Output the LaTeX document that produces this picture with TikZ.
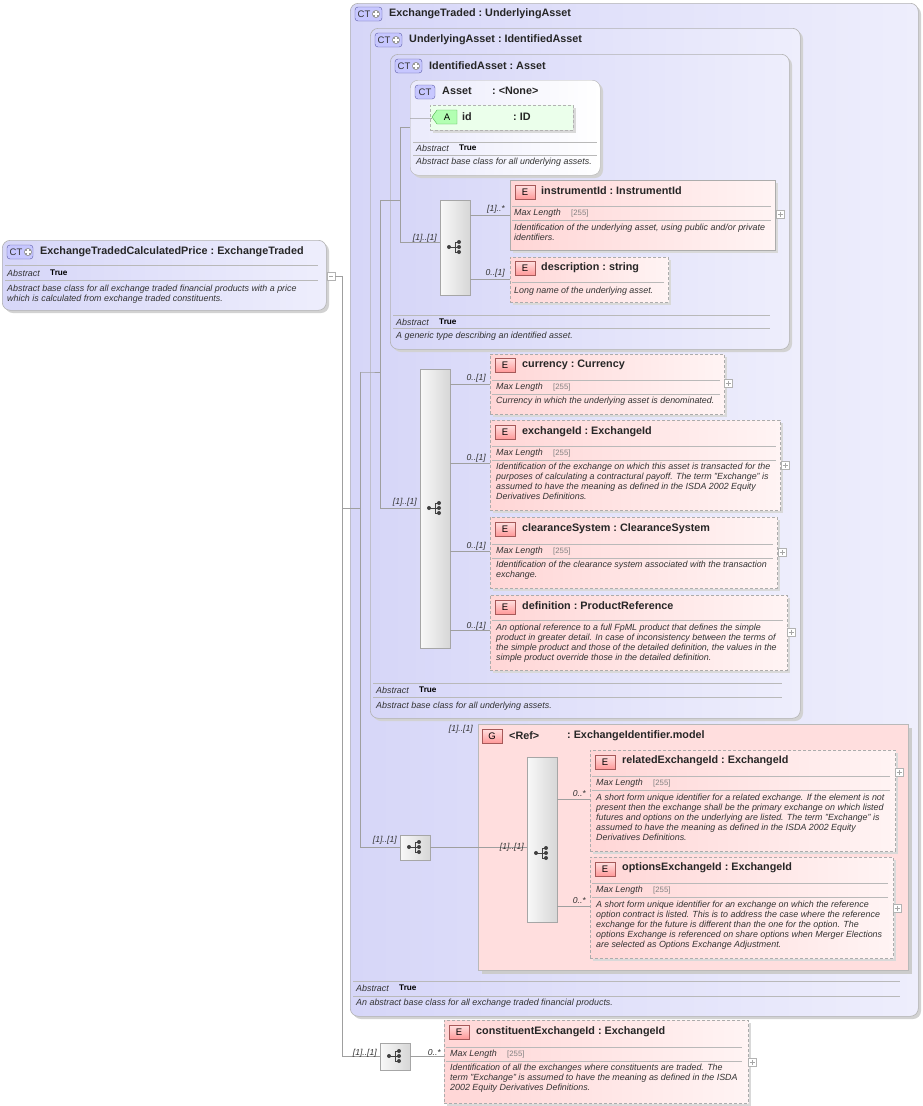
\documentclass[tikz,border=0pt]{standalone}
\usepackage{fontspec}
\setmainfont{Liberation Sans}
\begin{document}
\begin{tikzpicture}[x=1pt,y=-1pt,
  ln/.style={draw=gray!75,line width=0.6pt},
  ct/.style={draw=gray!60,rounded corners=8pt,left color=ctA,right color=ctB,line width=0.6pt},
  el/.style={draw=gray!65,left color=elA,right color=elB,line width=0.6pt,inner sep=0,anchor=north west},
  eld/.style={el,dash pattern=on 3pt off 2pt},
  sq/.style={draw=gray!70,left color=gray!5,right color=gray!32,inner sep=0,anchor=north west},
  tt/.style={font=\fontsize{10.8}{12}\selectfont\bfseries,anchor=west,inner sep=0,text=black!85},
  it/.style={font=\fontsize{8.9}{9.9}\selectfont\itshape,anchor=west,inner sep=0,text=black!80},
  ds/.style={font=\fontsize{8.9}{9.9}\selectfont\itshape,anchor=north west,inner sep=0,align=left,text=black!80},
  bt/.style={font=\fontsize{8.2}{9}\selectfont\bfseries,anchor=west,inner sep=0},
  gy/.style={font=\fontsize{7.8}{9}\selectfont,anchor=west,inner sep=0,text=gray},
  ml/.style={font=\fontsize{8.6}{9}\selectfont\itshape,anchor=east,inner sep=0,text=black!80}]
\definecolor{ctA}{HTML}{D6D6F8}\definecolor{ctB}{HTML}{EEEEFC}
\definecolor{elA}{HTML}{FFD6D6}\definecolor{elB}{HTML}{FFF4F4}
\useasboundingbox (0,0) rectangle (922,1106);
\fill[white] (0,0) rectangle (922,1106);
\newcommand\ctbadge[3]{% x y width
  \draw[draw=gray!70!blue,fill=blue!22,rounded corners=3pt] (#1,#2) rectangle ++(#3,14);
  \node[font=\fontsize{9.5}{10}\selectfont,inner sep=0,text=black!80] at (#1+9,#2+7) {CT};}
\newcommand\ctplus[2]{\fill[gray!80] (#1,#2) circle (4pt);
  \draw[white,line width=1.4pt] (#1-2.6,#2)--(#1+2.6,#2) (#1,#2-2.6)--(#1,#2+2.6);}
\newcommand\ebadge[3]{\draw[draw=gray!70!red,top color=red!12,bottom color=red!40] (#1,#2) rectangle ++(20,14);
  \node[font=\fontsize{9.5}{10}\selectfont,inner sep=0] at (#1+10,#2+7) {#3};}
\newcommand\hl[3]{\draw[gray!55,line width=0.5pt] (#1,#3)--(#2,#3);}
\newcommand\plusat[3]{\node[draw=gray!60,fill=white,minimum size=8pt,inner sep=0] (#1) at (#2,#3) {};
  \draw[gray!70,line width=0.4pt] (#2-2.5,#3)--(#2+2.5,#3) (#2,#3-2.5)--(#2,#3+2.5);}
\newcommand\seqicon[2]{\begin{scope}[shift={(#1,#2)},black!75]
  \draw[line width=0.7pt] (-6,0)--(0,0) (0,-5)--(0,5) (0,-5)--(4,-5) (0,5)--(4,5) (0,0)--(4,0);
  \fill (-6,0) circle (2pt) (4,-5) circle (2pt) (4,0) circle (2pt) (4,5) circle (2pt);\end{scope}}

% ---- left CT
\fill[gray!35] (5,243) [rounded corners=8pt] rectangle (329,313);
\node[ct,minimum width=324pt,minimum height=70pt,anchor=north west,inner sep=0] (etcp) at (2,240) {};
\ctbadge{7}{245}{26}\ctplus{28}{252}
\node[tt] at (40,252) {ExchangeTradedCalculatedPrice\ :\ ExchangeTraded};
\hl{5}{318}{265}\hl{5}{318}{280}
\node[it] at (7,273) {Abstract}; \node[bt] at (50,273) {True};
\node[ds] at (7,285) {Abstract base class for all exchange traded financial products with a price\\which is calculated from exchange traded constituents.};
\node[draw=gray!60,fill=white,minimum size=8pt,inner sep=0] (col) at (331,276) {};
\draw[gray!70] (329,276)--(333,276);

% ---- ExchangeTraded
\fill[gray!35] (353,6) [rounded corners=8pt] rectangle (921,1019);
\node[ct,minimum width=568pt,minimum height=1013pt,anchor=north west,inner sep=0] (et) at (350,3) {};
\ctbadge{355}{7}{27}\ctplus{376}{14}
\node[tt] at (389,14) {ExchangeTraded\ :\ UnderlyingAsset};
\hl{353}{900}{981}\hl{353}{900}{996}
\node[it] at (356,988) {Abstract}; \node[bt] at (399,988) {True};
\node[it] at (356,1003) {An abstract base class for all exchange traded financial products.};

% ---- UnderlyingAsset
\fill[gray!35] (373,31) [rounded corners=8pt] rectangle (803,721);
\node[ct,minimum width=430pt,minimum height=690pt,anchor=north west,inner sep=0] (ua) at (370,28) {};
\ctbadge{375}{33}{27}\ctplus{396}{40}
\node[tt] at (409,40) {UnderlyingAsset\ :\ IdentifiedAsset};
\hl{373}{782}{683}\hl{373}{782}{697}
\node[it] at (376,690) {Abstract}; \node[bt] at (419,690) {True};
\node[it] at (376,706) {Abstract base class for all underlying assets.};

% ---- IdentifiedAsset
\fill[gray!35] (393,57) [rounded corners=8pt] rectangle (792,352);
\node[ct,minimum width=399pt,minimum height=295pt,anchor=north west,inner sep=0] (ia) at (390,54) {};
\ctbadge{395}{59}{27}\ctplus{416}{66}
\node[tt] at (429,66) {IdentifiedAsset\ :\ Asset};
\hl{393}{770}{315}\hl{393}{770}{328}
\node[it] at (396,322) {Abstract}; \node[bt] at (439,322) {True};
\node[it] at (396,336) {A generic type describing an identified asset.};

% ---- Asset
\fill[gray!35] (413,83) [rounded corners=8pt] rectangle (603,178);
\node[draw=gray!60,rounded corners=8pt,left color=ctA!50,right color=white,minimum width=190pt,minimum height=95pt,anchor=north west,inner sep=0] (asset) at (410,80) {};
\draw[draw=gray!70!blue,fill=blue!22,rounded corners=3pt] (415,85) rectangle ++(20,14);
\node[font=\fontsize{9.5}{10}\selectfont,inner sep=0,text=black!80] at (425,92) {CT};
\node[tt] at (442,91) {Asset}; \node[tt] at (492,91) {:\ <None>};
\hl{413}{597}{142}\hl{413}{597}{155}
\node[it] at (416,148) {Abstract}; \node[bt] at (459,148) {True};
\node[it] at (416,162) {Abstract base class for all underlying assets.};
% id attribute
\fill[gray!30] (433,108) rectangle (576,133);
\node[draw=gray!60,dash pattern=on 3pt off 2pt,fill=green!8,minimum width=143pt,minimum height=25pt,anchor=north west,inner sep=0] (id) at (430,105) {};
\draw[draw=gray!60!green,fill=green!30] (437,110)--(457,110)--(457,124)--(437,124)--(432,117)--cycle;
\node[font=\fontsize{9.5}{10}\selectfont,inner sep=0] at (447,117) {A};
\node[tt] at (462,117) {id}; \node[tt] at (513,117) {:\ ID};

% ---- seq1 and IA content
\node[sq,minimum width=30pt,minimum height=95pt] (s1) at (440,200) {}; \seqicon{455}{247}
\fill[gray!30] (513,183) rectangle (778,253);
\node[el,minimum width=265pt,minimum height=70pt] (instr) at (510,180) {};
\ebadge{515}{185}{E}\node[tt] at (541,191) {instrumentId\ :\ InstrumentId};
\hl{512}{771}{206}\hl{512}{771}{220}
\node[it] at (514,213) {Max Length}; \node[gy] at (571,213) {[255]};
\node[ds] at (514,224) {Identification of the underlying asset, using public and/or private\\identifiers.};
\plusat{p1}{780}{214}
\fill[gray!30] (513,260) rectangle (671,305);
\node[eld,minimum width=158pt,minimum height=45pt] (descr) at (510,257) {};
\ebadge{515}{261}{E}\node[tt] at (541,268) {description\ :\ string};
\hl{512}{664}{282}
\node[it] at (514,291) {Long name of the underlying asset.};

% ---- seq2 and UA content
\node[sq,minimum width=30pt,minimum height=279pt] (s2) at (420,369) {}; \seqicon{435}{508}
\fill[gray!30] (493,357) rectangle (727,417);
\node[eld,minimum width=234pt,minimum height=60pt] (cur) at (490,354) {};
\ebadge{495}{358}{E}\node[tt] at (522,365) {currency\ :\ Currency};
\hl{492}{720}{380}\hl{492}{720}{394}
\node[it] at (496,387) {Max Length}; \node[gy] at (553,387) {[255]};
\node[it] at (496,401) {Currency in which the underlying asset is denominated.};
\plusat{p2}{728}{383}
\fill[gray!30] (493,423) rectangle (783,513);
\node[eld,minimum width=290pt,minimum height=90pt] (exid) at (490,420) {};
\ebadge{495}{425}{E}\node[tt] at (522,432) {exchangeId\ :\ ExchangeId};
\hl{492}{776}{446}\hl{492}{776}{460}
\node[it] at (496,453) {Max Length}; \node[gy] at (553,453) {[255]};
\node[ds] at (496,463) {Identification of the exchange on which this asset is transacted for the\\purposes of calculating a contractural payoff. The term "Exchange" is\\assumed to have the meaning as defined in the ISDA 2002 Equity\\Derivatives Definitions.};
\plusat{p3}{785}{465}
\fill[gray!30] (493,520) rectangle (780,591);
\node[eld,minimum width=287pt,minimum height=71pt] (clr) at (490,517) {};
\ebadge{495}{522}{E}\node[tt] at (522,529) {clearanceSystem\ :\ ClearanceSystem};
\hl{492}{773}{544}\hl{492}{773}{558}
\node[it] at (496,551) {Max Length}; \node[gy] at (553,551) {[255]};
\node[ds] at (496,561) {Identification of the clearance system associated with the transaction\\exchange.};
\plusat{p4}{782}{552}
\fill[gray!30] (493,598) rectangle (790,673);
\node[eld,minimum width=297pt,minimum height=75pt] (def) at (490,595) {};
\ebadge{495}{600}{E}\node[tt] at (522,606) {definition\ :\ ProductReference};
\hl{492}{783}{620}
\node[ds] at (496,624) {An optional reference to a full FpML product that defines the simple\\product in greater detail. In case of inconsistency between the terms of\\the simple product and those of the detailed definition, the values in the\\simple product override those in the detailed definition.};
\plusat{p5}{791}{632}

% ---- seq3 and G group
\node[sq,minimum width=30pt,minimum height=25pt] (s3) at (400,835) {}; \seqicon{415}{847}
\fill[gray!40] (482,728) rectangle (912,974);
\node[draw=gray!55,fill=red!13,minimum width=430pt,minimum height=246pt,anchor=north west,inner sep=0] (grp) at (478,724) {};
\ebadge{482}{729}{G}\node[tt] at (509,736) {<Ref>}; \node[tt] at (567,736) {:\ ExchangeIdentifier.model};
\node[sq,minimum width=30pt,minimum height=165pt] (s4) at (527,757) {}; \seqicon{542}{853}
\fill[gray!30] (593,753) rectangle (898,854);
\node[eld,minimum width=305pt,minimum height=101pt] (rel) at (590,750) {};
\ebadge{595}{755}{E}\node[tt] at (622,761) {relatedExchangeId\ :\ ExchangeId};
\hl{592}{890}{776}\hl{592}{890}{790}
\node[it] at (596,783) {Max Length}; \node[gy] at (653,783) {[255]};
\node[ds] at (596,794) {A short form unique identifier for a related exchange. If the element is not\\present then the exchange shall be the primary exchange on which listed\\futures and options on the underlying are listed. The term "Exchange" is\\assumed to have the meaning as defined in the ISDA 2002 Equity\\Derivatives Definitions.};
\plusat{p6}{899}{772}
\fill[gray!30] (593,860) rectangle (896,961);
\node[eld,minimum width=303pt,minimum height=101pt] (opt) at (590,857) {};
\ebadge{595}{862}{E}\node[tt] at (622,868) {optionsExchangeId\ :\ ExchangeId};
\hl{592}{888}{883}\hl{592}{888}{897}
\node[it] at (596,890) {Max Length}; \node[gy] at (653,890) {[255]};
\node[ds] at (596,901) {A short form unique identifier for an exchange on which the reference\\option contract is listed. This is to address the case where the reference\\exchange for the future is different than the one for the option. The\\options Exchange is referenced on share options when Merger Elections\\are selected as Options Exchange Adjustment.};
\plusat{p7}{897}{908}

% ---- seq5 and constituent
\node[sq,minimum width=30pt,minimum height=27pt] (s5) at (380,1043) {}; \seqicon{395}{1056}
\fill[gray!30] (447,1023) rectangle (751,1106);
\node[eld,minimum width=304pt,minimum height=83pt] (cons) at (444,1020) {};
\ebadge{449}{1025}{E}\node[tt] at (476,1032) {constituentExchangeId\ :\ ExchangeId};
\hl{446}{742}{1047}\hl{446}{742}{1061}
\node[it] at (450,1054) {Max Length}; \node[gy] at (507,1054) {[255]};
\node[ds] at (450,1064) {Identification of all the exchanges where constituents are traded. The\\term "Exchange" is assumed to have the meaning as defined in the ISDA\\2002 Equity Derivatives Definitions.};
\plusat{p8}{752}{1062}

% ---- connectors
\coordinate (j0) at (342,276);
\draw[ln] (col.east)--(j0)--(342,1056)--(s5.west|-0,1056);
\draw[ln] (342,508)--(et.west|-0,508);
\draw[ln] (350,508)--(360,508);
\draw[ln] (360,372)--(360,847)--(s3.west|-0,847);
\draw[ln] (360,372)--(ua.west|-0,372)--(380,372);
\draw[ln] (380,200)--(380,508)--(s2.west|-0,508);
\draw[ln] (380,200)--(400,200);
\draw[ln] (400,127)--(400,242)--(s1.west|-0,242);
\draw[ln] (400,127)--(asset.west|-0,127);
\draw[ln] (asset.west|-0,118)--(id.west|-0,118)--(432,118);
\draw[ln] (s1.east|-0,215)--(instr.west|-0,215);
\draw[ln] (s1.east|-0,279)--(descr.west|-0,279);
\draw[ln] (s2.east|-0,384)--(cur.west|-0,384);
\draw[ln] (s2.east|-0,463)--(exid.west|-0,463);
\draw[ln] (s2.east|-0,551)--(clr.west|-0,551);
\draw[ln] (s2.east|-0,630)--(def.west|-0,630);
\draw[ln] (s3.east|-0,847)--(grp.west|-0,847)--(s4.west|-0,847);
\draw[ln] (s4.east|-0,799)--(rel.west|-0,799);
\draw[ln] (s4.east|-0,906)--(opt.west|-0,906);
\draw[ln] (s5.east|-0,1056)--(cons.west|-0,1056);

% ---- multiplicities
\node[ml] at (437,238) {[1]..[1]};
\node[ml] at (505,209) {[1]..*};
\node[ml] at (505,273) {0..[1]};
\node[ml] at (417,502) {[1]..[1]};
\node[ml] at (486,378) {0..[1]};
\node[ml] at (486,458) {0..[1]};
\node[ml] at (486,546) {0..[1]};
\node[ml] at (486,626) {0..[1]};
\node[ml] at (397,840) {[1]..[1]};
\node[ml] at (473,729) {[1]..[1]};
\node[ml] at (524,847) {[1]..[1]};
\node[ml] at (586,794) {0..*};
\node[ml] at (586,901) {0..*};
\node[ml] at (377,1053) {[1]..[1]};
\node[ml] at (441,1053) {0..*};
\end{tikzpicture}
\end{document}
